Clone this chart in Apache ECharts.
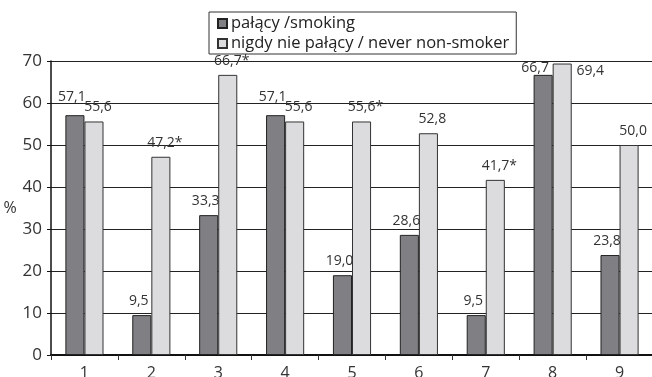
<!DOCTYPE html>
<html><head><meta charset="utf-8">
<script src="https://cdn.jsdelivr.net/npm/echarts@6/dist/echarts.min.js"></script>
<style>html,body{margin:0;padding:0;background:#fff}#c{width:652px;height:377px}</style>
</head><body><div id="c"></div>
<script>
var categories = ['1','2','3','4','5','6','7','8','9'];
var smoking = [57.1, 9.5, 33.3, 57.1, 19.0, 28.6, 9.5, 66.7, 23.8];
var neverSmoker = [55.6, 47.2, 66.7, 55.6, 55.6, 52.8, 41.7, 69.4, 50.0];
var neverStar = [false, true, true, false, true, false, true, false, false];
var seriesNames = ['pałący /smoking', 'nigdy nie pałący / never non-smoker'];
var yTicks = [0, 10, 20, 30, 40, 50, 60, 70];

function fmt(v){ return v.toFixed(1).replace('.', ','); }
var FONT = 'Open Sans';
var chart = echarts.init(document.getElementById('c'), null, {renderer:'canvas'});

var smokingData = smoking.map(function(v, i){
  var d = {value: v};
  if (i === 0 || i === 3) d.label = {offset: [-3, -4]};
  if (i === 7) d.label = {offset: [-8, 7]};
  return d;
});
var neverData = neverSmoker.map(function(v, i){
  var d = {value: v};
  if (i === 7) d.label = {offset: [28, 21]};
  return d;
});

chart.setOption({
  animation: false,
  textStyle: {fontFamily: FONT},
  legend: {
    orient: 'vertical', left: 209, top: 12,
    itemWidth: 9, itemHeight: 9, itemGap: 3,
    borderColor: '#333', borderWidth: 1, padding: [3, 7, 2, 8],
    backgroundColor: '#fff',
    textStyle: {fontFamily: FONT, fontSize: 16.5, color: '#222', padding: [0,0,0,-1]},
    icon: 'rect',
    data: seriesNames
  },
  grid: {left: 51, top: 61, right: -1, bottom: 22, containLabel: false, outerBoundsMode: 'none'},
  xAxis: {
    type: 'category', data: categories,
    axisLine: {lineStyle: {color: '#111', width: 2}},
    axisTick: {show: true, length: 5, lineStyle: {color: '#333'}},
    axisLabel: {fontFamily: FONT, fontSize: 16, color: '#333', margin: 10}
  },
  yAxis: {
    type: 'value', min: 0, max: 70, interval: 10,
    name: '%', nameLocation: 'middle', nameRotate: 0, nameGap: 31,
    nameTextStyle: {fontFamily: FONT, fontSize: 16, color: '#333'},
    axisLine: {show: true, lineStyle: {color: '#111', width: 1.5}},
    axisTick: {show: true, length: 4, lineStyle: {color: '#111'}},
    axisLabel: {fontFamily: FONT, fontSize: 17, color: '#333', margin: 9,
      formatter: function(v){ return yTicks.indexOf(v) >= 0 ? String(v) : ''; }},
    splitLine: {lineStyle: {color: '#222', width: 1}}
  },
  series: [
    {
      name: seriesNames[0], type: 'bar', data: smokingData,
      barGap: '0%', barCategoryGap: '43%',
      itemStyle: {color: '#808084', borderColor: '#222', borderWidth: 1},
      label: {show: true, position: 'top', distance: 7, offset: [-3, 0],
        fontFamily: FONT, fontSize: 14, color: '#333',
        formatter: function(p){ return fmt(p.value); }}
    },
    {
      name: seriesNames[1], type: 'bar', data: neverData,
      itemStyle: {color: '#dcdcdf', borderColor: '#333', borderWidth: 1},
      label: {show: true, position: 'top', distance: 7, offset: [4, 0],
        fontFamily: FONT, fontSize: 14, color: '#333',
        formatter: function(p){ return fmt(p.value) + (neverStar[p.dataIndex] ? '*' : ''); }}
    }
  ]
});
</script></body></html>
